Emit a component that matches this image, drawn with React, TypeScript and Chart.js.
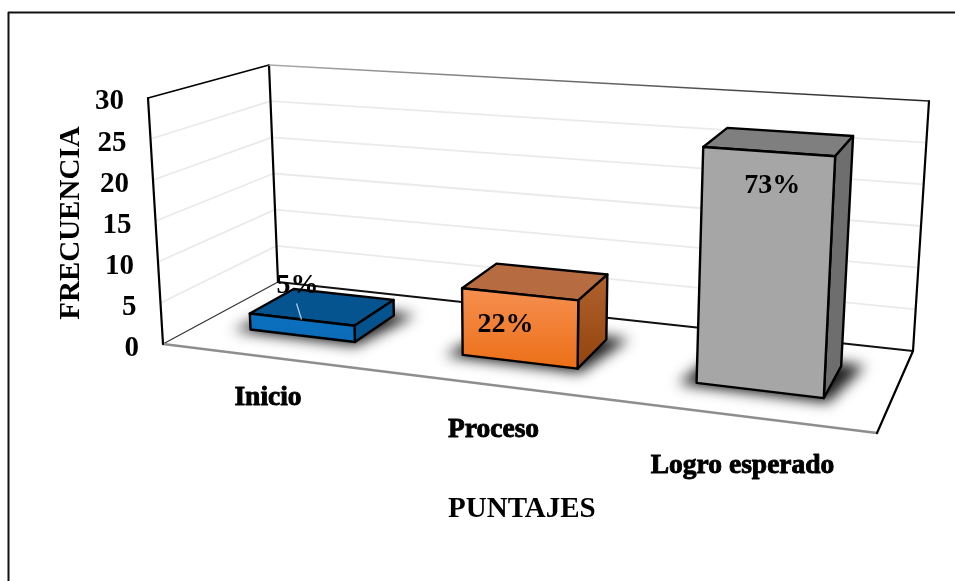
import React, { useEffect, useRef } from "react";
import { Chart, registerables } from "chart.js";

Chart.register(...registerables);

const categories = ["Inicio", "Proceso", "Logro esperado"];
const frecuencia = [2, 8, 27];
const porcentajes = ["5%", "22%", "73%"];
const yTitle = "FRECUENCIA";
const xTitle = "PUNTAJES";

const frontTop = ["#0B70BF", "#F68F50", "#A6A6A6"];
const frontBottom = ["#0B6CB8", "#EC6F17", "#A6A6A6"];
const topFace = ["#05548F", "#B66C40", "#7F7F7F"];
const sideTop = ["#05548F", "#B0622F", "#6E6E6E"];
const sideBottom = ["#05528C", "#93440C", "#6E6E6E"];

const SERIF = '"Liberation Serif"';

type P = [number, number];
// 3D box corners of the plot: Front/Back, Bottom/Top, Left/Right
const FBL: P = [163, 344];
const FBR: P = [877, 433];
const BBL: P = [278, 282];
const BBR: P = [913, 351];
const FTL: P = [148, 98];
const FTR: P = [892, 150];
const BTL: P = [269, 65];
const BTR: P = [929, 101];
const PERSPECTIVE = 1.16;
const W_FRONT = 0.33;
const W_BACK = 0.73;

const lerp = (a: P, b: P, t: number): P => [a[0] + (b[0] - a[0]) * t, a[1] + (b[1] - a[1]) * t];
const warp = (t: number) => t / (t + PERSPECTIVE * (1 - t));
const project = (t: number, v: number, w: number): P => {
  const u = warp(t);
  const bottom = lerp(lerp(FBL, FBR, u), lerp(BBL, BBR, u), w);
  const top = lerp(lerp(FTL, FTR, u), lerp(BTL, BTR, u), w);
  return lerp(bottom, top, v);
};

const poly = (ctx: CanvasRenderingContext2D, pts: P[]) => {
  ctx.beginPath();
  pts.forEach((p, i) => (i ? ctx.lineTo(p[0], p[1]) : ctx.moveTo(p[0], p[1])));
  ctx.closePath();
};
const line = (ctx: CanvasRenderingContext2D, a: P, b: P, color: string, width: number) => {
  ctx.beginPath();
  ctx.moveTo(a[0], a[1]);
  ctx.lineTo(b[0], b[1]);
  ctx.strokeStyle = color;
  ctx.lineWidth = width;
  ctx.stroke();
};

const labelOffsets: P[] = [[-4, -34], [-14, 31], [4, 34]];

const box3d = {
  id: "box3d",
  beforeDatasetsDraw(chart: any) {
    const { ctx, chartArea, scales } = chart;
    const y = scales.y;
    const vOf = (val: number) => (chartArea.bottom - y.getPixelForValue(val)) / chartArea.height;
    ctx.save();
    ctx.lineCap = "round";
    ctx.lineJoin = "round";

    // frame
    ctx.strokeStyle = "#111";
    ctx.lineWidth = 2;
    ctx.beginPath();
    ctx.moveTo(8.5, 581);
    ctx.lineTo(8.5, 12.5);
    ctx.lineTo(955, 12.5);
    ctx.stroke();

    // gridlines
    y.ticks.forEach((tk: any) => {
      if (tk.value === 0 || tk.value === 30) return;
      const v = vOf(tk.value);
      const a = project(0, v, 0), b = project(0, v, 1), c = project(1, v, 1);
      ctx.beginPath();
      ctx.moveTo(a[0], a[1]);
      ctx.lineTo(b[0], b[1]);
      ctx.lineTo(c[0], c[1]);
      ctx.strokeStyle = "#EAEAEA";
      ctx.lineWidth = 1.8;
      ctx.stroke();
    });

    // walls + floor
    line(ctx, FBL, BBL, "#333", 1.2);
    line(ctx, BBL, BBR, "#111", 1.8);
    line(ctx, FBL, FBR, "#8E8E8E", 2.6);
    line(ctx, FBR, BBR, "#000", 2.2);
    line(ctx, FBL, FTL, "#000", 2.2);
    line(ctx, BBL, BTL, "#000", 2.2);
    line(ctx, BBR, BTR, "#000", 2.2);
    line(ctx, FTL, BTL, "#000", 1.8);
    const grad = ctx.createLinearGradient(BTL[0], 0, BTR[0], 0);
    grad.addColorStop(0, "#AAAAAA");
    grad.addColorStop(1, "#222222");
    line(ctx, BTL, BTR, grad as any, 1.5);

    // y tick labels follow the slanted front edge of the wall
    ctx.fillStyle = "#000";
    ctx.strokeStyle = "#000";
    ctx.font = `bold 29px ${SERIF}`;
    ctx.textAlign = "right";
    ctx.textBaseline = "middle";
    y.ticks.forEach((tk: any) => {
      const py = y.getPixelForValue(tk.value);
      const edge = project(0, vOf(tk.value), 0);
      ctx.fillText(String(tk.value), edge[0] - 24, py + 2);
    });

    // category labels below the front floor edge
    ctx.font = `bold 27.5px ${SERIF}`;
    ctx.textAlign = "center";
    ctx.lineWidth = 0.9;
    const xs = scales.x;
    categories.forEach((c, i) => {
      const t = (xs.getPixelForValue(i) - chartArea.left) / chartArea.width;
      const p = project(t, 0, 0);
      const py = p[1] + 39 + 13 * warp(t);
      ctx.fillText(c, p[0], py);
      ctx.strokeText(c, p[0], py);
    });
    ctx.restore();
  },
  beforeDatasetDraw(chart: any) {
    const { ctx, chartArea } = chart;
    const meta = chart.getDatasetMeta(0);
    ctx.save();
    ctx.lineJoin = "round";
    meta.data.forEach((el: any, i: number) => {
      const { x, y, width } = el.getProps(["x", "y", "width"], true);
      const t0 = (x - width / 2 - chartArea.left) / chartArea.width;
      const t1 = (x + width / 2 - chartArea.left) / chartArea.width;
      const v = (chartArea.bottom - y) / chartArea.height;

      // floor shadow
      ctx.save();
      ctx.filter = "blur(7px)";
      ctx.fillStyle = "rgba(15,15,15,0.95)";
      poly(ctx, [
        project(t0 - 0.022, 0, W_FRONT - 0.035),
        project(t1 + 0.008, 0, W_FRONT - 0.045),
        project(t1 + 0.03, 0, W_BACK + 0.035),
        project(t0, 0, W_BACK + 0.035),
      ]);
      ctx.fill();
      ctx.restore();

      const fbl = project(t0, 0, W_FRONT), fbr = project(t1, 0, W_FRONT);
      const ftl = project(t0, v, W_FRONT), ftr = project(t1, v, W_FRONT);
      const bbr = project(t1, 0, W_BACK);
      const btl = project(t0, v, W_BACK), btr = project(t1, v, W_BACK);

      const fg = ctx.createLinearGradient(0, Math.min(ftl[1], ftr[1]), 0, Math.max(fbl[1], fbr[1]));
      fg.addColorStop(0, frontTop[i]);
      fg.addColorStop(1, frontBottom[i]);
      const sg = ctx.createLinearGradient(0, btr[1], 0, fbr[1]);
      sg.addColorStop(0, sideTop[i]);
      sg.addColorStop(1, sideBottom[i]);

      ctx.strokeStyle = "#000";
      ctx.lineWidth = 2.4;
      poly(ctx, [ftl, ftr, btr, btl]);
      ctx.fillStyle = topFace[i];
      ctx.fill();
      ctx.stroke();
      poly(ctx, [ftr, fbr, bbr, btr]);
      ctx.fillStyle = sg;
      ctx.fill();
      ctx.stroke();
      poly(ctx, [ftl, ftr, fbr, fbl]);
      ctx.fillStyle = fg;
      ctx.fill();
      ctx.stroke();

      // data label, anchored on the top front edge of the bar
      const mid = project((t0 + t1) / 2, v, W_FRONT);
      const off = labelOffsets[i];
      if (i === 0) {
        line(ctx, [mid[0] - 5, mid[1] - 16], [mid[0], mid[1]], "#A9CBE6", 1.3);
      }
      ctx.fillStyle = "#000";
      ctx.font = `bold 28px ${SERIF}`;
      ctx.textAlign = "center";
      ctx.textBaseline = "middle";
      ctx.fillText(porcentajes[i], mid[0] + off[0], mid[1] + off[1]);
    });
    ctx.restore();
    return false;
  },
};

export default function App() {
  const ref = useRef<HTMLCanvasElement>(null);
  useEffect(() => {
    const chart = new Chart(ref.current!, {
      type: "bar",
      data: {
        labels: categories,
        datasets: [
          {
            label: yTitle,
            data: frecuencia,
            backgroundColor: frontBottom,
            barPercentage: 0.504,
            categoryPercentage: 1,
          },
        ],
      },
      options: {
        animation: false,
        responsive: false,
        layout: { padding: { top: 100, bottom: 44, left: 54, right: 68 } },
        plugins: { legend: { display: false }, tooltip: { enabled: false } },
        scales: {
          x: {
            grid: { display: false },
            border: { display: false },
            ticks: { display: false },
            title: {
              display: true,
              text: xTitle,
              color: "#000",
              padding: { top: 138, bottom: 10 },
              font: { family: SERIF, size: 29, weight: "bold" },
            },
          },
          y: {
            min: 0,
            max: 30,
            grid: { display: false },
            border: { display: false },
            ticks: { display: false, stepSize: 5 },
            title: {
              display: true,
              text: yTitle,
              color: "#000",
              padding: { top: 0, bottom: 60 },
              font: { family: SERIF, size: 29, weight: "bold" },
            },
          },
        },
      },
      plugins: [box3d],
    } as any);
    return () => chart.destroy();
  }, []);
  return (
    <canvas
      ref={ref}
      width={955}
      height={581}
      style={{ position: "absolute", left: 0, top: 0, display: "block" }}
    />
  );
}
